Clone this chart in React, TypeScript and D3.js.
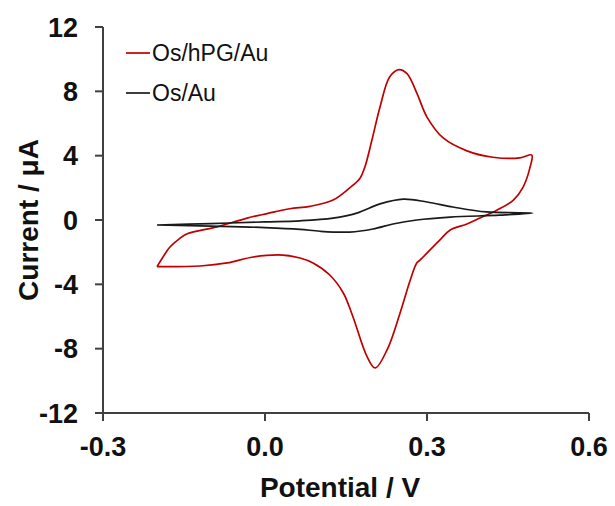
import React from "react";
import * as d3 from "d3";

const width = 615;
const height = 506;
const margin = { top: 27, right: 26, bottom: 93, left: 103 };

// Os/hPG/Au loop (V, uA)
const redPotential = [-0.2, -0.185, -0.176, -0.16, -0.144, -0.089, -0.033, 0.004, 0.046, 0.083, 0.126, 0.157, 0.176, 0.185, 0.198, 0.213, 0.231, 0.248, 0.263, 0.281, 0.3, 0.33, 0.374, 0.422, 0.472, 0.494, 0.491, 0.478, 0.46, 0.43, 0.398, 0.374, 0.343, 0.324, 0.287, 0.281, 0.269, 0.25, 0.226, 0.204, 0.189, 0.163, 0.145, 0.12, 0.089, 0.065, 0.033, -0.022, -0.07, -0.12, -0.2];
const redCurrent = [-2.9, -2.1, -1.68, -1.2, -0.85, -0.43, 0.12, 0.4, 0.7, 0.85, 1.24, 2.0, 2.6, 3.3, 4.97, 7.03, 8.9, 9.35, 9.1, 7.9, 6.4, 5.1, 4.3, 3.9, 3.86, 4.04, 3.3, 2.05, 1.24, 0.62, 0.12, -0.25, -0.62, -1.24, -2.49, -2.67, -3.73, -5.8, -8.08, -9.2, -8.5, -6.03, -4.54, -3.42, -2.67, -2.36, -2.18, -2.3, -2.67, -2.86, -2.9];

// Os/Au loop
const blackPotential = [-0.2, -0.1, 0.0, 0.065, 0.126, 0.17, 0.213, 0.256, 0.3, 0.348, 0.41, 0.496, 0.435, 0.343, 0.281, 0.237, 0.2, 0.157, 0.102, 0.065, 0.0, -0.1, -0.2];
const blackCurrent = [-0.31, -0.22, -0.12, -0.05, 0.12, 0.43, 1.0, 1.3, 1.12, 0.81, 0.5, 0.43, 0.3, 0.18, 0.0, -0.25, -0.56, -0.75, -0.7, -0.58, -0.47, -0.38, -0.31];

const xTicks = [-0.3, 0.0, 0.3, 0.6];
const yTicks = [-12, -8, -4, 0, 4, 8, 12];

const series = [
  { name: "Os/hPG/Au", color: "#c00000", x: redPotential, y: redCurrent },
  { name: "Os/Au", color: "#1a1a1a", x: blackPotential, y: blackCurrent },
];

const font = "Liberation Sans, Arial, sans-serif";
const axisColor = "#404040";

export default function App() {
  const x = d3.scaleLinear().domain([-0.3, 0.6]).range([margin.left, width - margin.right]);
  const y = d3.scaleLinear().domain([-12, 12]).range([height - margin.bottom, margin.top]);

  const gen = d3
    .line<[number, number]>()
    .x((d) => x(d[0]))
    .y((d) => y(d[1]))
    .curve(d3.curveCatmullRom.alpha(0.5));

  const paths = series.map((s) => gen(s.x.map((v, i) => [v, s.y[i]] as [number, number])) as string);

  const x0 = margin.left;
  const yBottom = height - margin.bottom;

  return (
    <svg width={width} height={height} style={{ position: "absolute", left: 0, top: 0, background: "#fff" }}>
      {/* curves */}
      {paths.map((d, i) => (
        <path key={i} d={d} fill="none" stroke={series[i].color} strokeWidth={1.7} strokeLinejoin="round" />
      ))}

      {/* y axis */}
      <line x1={x0} x2={x0} y1={y(12)} y2={yBottom} stroke={axisColor} strokeWidth={2} />
      {yTicks.map((t) => (
        <g key={t}>
          <line x1={x0 - 8} x2={x0} y1={y(t)} y2={y(t)} stroke={axisColor} strokeWidth={2} />
          <text x={x0 - 25} y={y(t)} dy="0.36em" textAnchor="end" fontFamily={font} fontWeight="bold" fontSize={27} fill="#111">
            {String(t)}
          </text>
        </g>
      ))}

      {/* x axis */}
      <line x1={x0} x2={x(0.6)} y1={yBottom} y2={yBottom} stroke={axisColor} strokeWidth={2} />
      {xTicks.map((t) => (
        <g key={t}>
          <line x1={x(t)} x2={x(t)} y1={yBottom} y2={yBottom + 8} stroke={axisColor} strokeWidth={2} />
          <text x={x(t)} y={yBottom + 43} textAnchor="middle" fontFamily={font} fontWeight="bold" fontSize={27} fill="#111">
            {t.toFixed(1)}
          </text>
        </g>
      ))}

      {/* axis titles */}
      <text x={(x0 + x(0.6)) / 2 - 6} y={497} textAnchor="middle" fontFamily={font} fontWeight="bold" fontSize={28} fill="#111">
        Potential / V
      </text>
      <text transform={`translate(38, ${y(0)}) rotate(-90)`} textAnchor="middle" fontFamily={font} fontWeight="bold" fontSize={28} fill="#111">
        Current / μA
      </text>

      {/* legend */}
      {series.map((s, i) => (
        <g key={s.name} transform={`translate(126, ${53 + i * 40})`}>
          <line x1={0} x2={24} y1={0} y2={0} stroke={s.color} strokeWidth={1.7} />
          <text x={26} y={0} dy="0.35em" fontFamily={font} fontSize={23} fill="#111">
            {s.name}
          </text>
        </g>
      ))}
    </svg>
  );
}
